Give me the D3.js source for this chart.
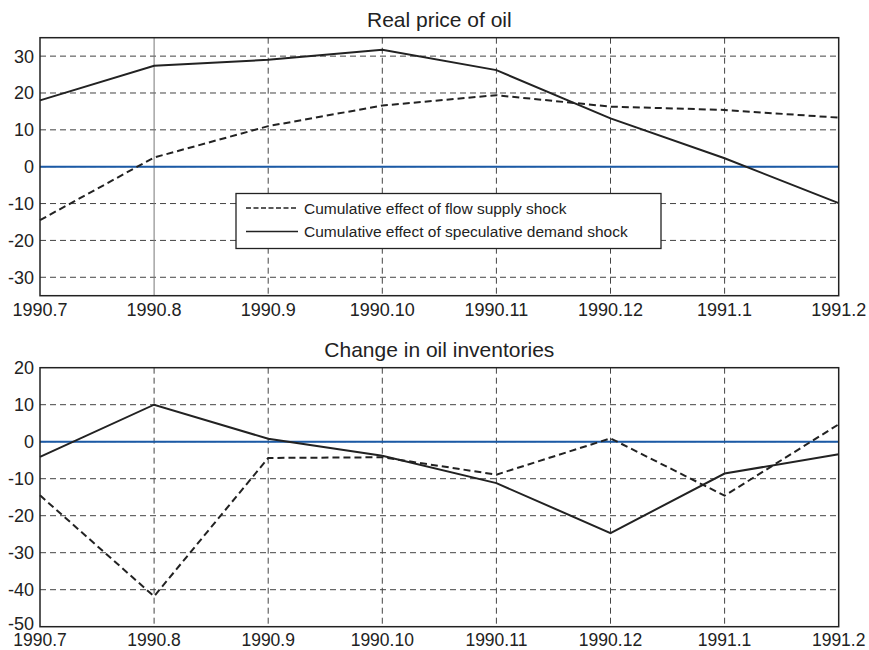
<!DOCTYPE html>
<html>
<head>
<meta charset="utf-8">
<script src="https://cdn.jsdelivr.net/npm/d3@7"></script>
<style>
  body { margin: 0; background: #fff; }
  svg { display: block; font-family: "Liberation Sans", Arial, sans-serif; }
</style>
</head>
<body>
<script>
// months on the x axis
const months = ["1990.7", "1990.8", "1990.9", "1990.10", "1990.11", "1990.12", "1991.1", "1991.2"];

// real price of oil
const priceSupply = [-14.5, 2.5, 11, 16.6, 19.4, 16.3, 15.4, 13.3];
const priceSpec = [18, 27.4, 29, 31.7, 26.2, 13.1, 2.3, -9.9];
const priceTicks = [-30, -20, -10, 0, 10, 20, 30];

// change in oil inventories
const invSupply = [-14.5, -41.8, -4.4, -4.2, -8.9, 0.9, -14.6, 4.7];
const invSpec = [-4.1, 10, 0.8, -3.8, -11.2, -24.7, -8.6, -3.4];
const invTicks = [-50, -40, -30, -20, -10, 0, 10, 20];

const legendLabels = ["Cumulative effect of flow supply shock", "Cumulative effect of speculative demand shock"];

const W = 869, H = 650;
const left = 40, right = 838.7;

const svg = d3.select("body").append("svg").attr("width", W).attr("height", H);

const x = d3.scalePoint().domain(months).range([left, right]).padding(0);

function panel(top, bottom, domain, ticks, title, supply, spec, solidGridAt, opts) {
  const y = d3.scaleLinear().domain(domain).range([bottom, top]);
  const g = svg.append("g");

  // title
  g.append("text").attr("x", (left + right) / 2).attr("y", top - 11)
    .attr("text-anchor", "middle").attr("font-size", 21).attr("fill", "#222").text(title);

  // horizontal grid
  g.selectAll(".hg").data(ticks.filter(t => t > domain[0] && t < domain[1])).enter()
    .append("line").attr("x1", left).attr("x2", right)
    .attr("y1", d => y(d)).attr("y2", d => y(d))
    .attr("stroke", "#444").attr("stroke-width", 1).attr("stroke-dasharray", "6,4");

  // vertical grid
  g.selectAll(".vg").data(months.slice(1, -1)).enter()
    .append("line").attr("y1", top).attr("y2", bottom)
    .attr("x1", d => x(d)).attr("x2", d => x(d))
    .attr("stroke", d => d === solidGridAt ? "#777" : "#444")
    .attr("stroke-width", 1)
    .attr("stroke-dasharray", d => d === solidGridAt ? null : "6,4");

  // y tick labels (lowest one nudged up where it meets the x labels)
  g.selectAll(".yl").data(ticks).enter().append("text")
    .attr("x", left - 6).attr("y", d => y(d) - (d === domain[0] ? opts.lowestUp : 0)).attr("dy", "0.36em")
    .attr("text-anchor", "end").attr("font-size", 18).attr("fill", "#222")
    .text(d => d);

  // x tick labels
  g.selectAll(".xl").data(months).enter().append("text")
    .attr("x", d => x(d)).attr("y", bottom + opts.xGap).attr("dy", "0.36em")
    .attr("text-anchor", "middle").attr("font-size", opts.xSize).attr("fill", "#222")
    .text(d => d);

  // zero line
  g.append("line").attr("x1", left).attr("x2", right).attr("y1", y(0)).attr("y2", y(0))
    .attr("stroke", "#1b5aa6").attr("stroke-width", 2);

  const line = d3.line().x((d, i) => x(months[i])).y(d => y(d));
  g.append("path").datum(supply).attr("d", line).attr("fill", "none")
    .attr("stroke", "#222").attr("stroke-width", 2).attr("stroke-dasharray", "7,4");
  g.append("path").datum(spec).attr("d", line).attr("fill", "none")
    .attr("stroke", "#222").attr("stroke-width", 2);

  // frame
  g.append("rect").attr("x", left).attr("y", top).attr("width", right - left).attr("height", bottom - top)
    .attr("fill", "none").attr("stroke", "#222").attr("stroke-width", 1.5);
  return y;
}

panel(37.7, 295.7, [-35, 35], priceTicks, "Real price of oil", priceSupply, priceSpec, "1990.8",
  { lowestUp: 0, xGap: 14, xSize: 18 });
panel(367.7, 626.7, [-50, 20], invTicks, "Change in oil inventories", invSupply, invSpec, null,
  { lowestUp: 3, xGap: 12.5, xSize: 17.5 });

// legend
const lg = svg.append("g");
lg.append("rect").attr("x", 236).attr("y", 193.5).attr("width", 425).attr("height", 55)
  .attr("fill", "#fff").attr("stroke", "#222").attr("stroke-width", 1.3);
legendLabels.forEach((lab, i) => {
  const yy = 208 + i * 23.5;
  lg.append("line").attr("x1", 246).attr("x2", 298).attr("y1", yy).attr("y2", yy)
    .attr("stroke", "#222").attr("stroke-width", 1.6)
    .attr("stroke-dasharray", i === 0 ? "5,2.5" : null);
  lg.append("text").attr("x", 304).attr("y", yy).attr("dy", "0.36em")
    .attr("font-size", 15.5).attr("fill", "#222").text(lab);
});
</script>
</body>
</html>
